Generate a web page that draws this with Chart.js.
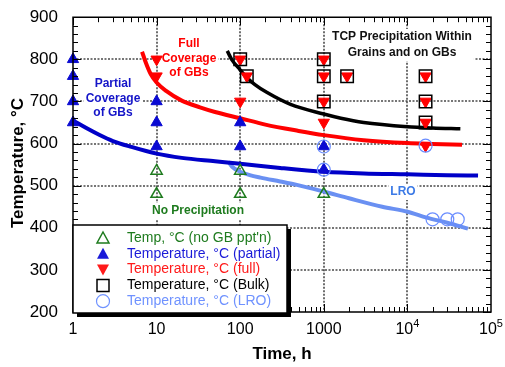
<!DOCTYPE html>
<html>
<head>
<meta charset="utf-8">
<script src="https://cdn.jsdelivr.net/npm/chart.js@4.4.0/dist/chart.umd.min.js"></script>
<style>
  html, body { margin: 0; padding: 0; background: #fff; }
</style>
</head>
<body>
<canvas id="grafico" width="505" height="367"></canvas>
<script>
// ticks
const xTicks = [1, 10, 100, 1000, 10000, 100000];
const xTickLabels = ['1', '10', '100', '1000', '10^4', '10^5'];
const yTicks = [200, 300, 400, 500, 600, 700, 800, 900];

// markers (time h, temperature C)
const noGbTime = [10, 10, 100, 100, 1000];
const noGbTemp = [535, 480, 535, 480, 480];
const partialTime = [1, 1, 1, 1, 10, 10, 10, 100, 100, 1000, 1000];
const partialTemp = [800, 760, 700, 650, 700, 650, 593, 650, 593, 593, 538];
const fullTime = [10, 10, 100, 120, 100, 1000, 1000, 1000, 1000, 1900, 16500, 16500, 16500, 16500];
const fullTemp = [800, 760, 800, 760, 700, 800, 760, 700, 650, 760, 760, 700, 650, 595];
const bulkTime = [100, 120, 1000, 1000, 1000, 1900, 16500, 16500, 16500];
const bulkTemp = [800, 760, 800, 760, 700, 760, 760, 700, 650];
const lroTime = [1000, 1000, 16500, 20000, 30000, 40000];
const lroTemp = [593, 538, 595, 420, 420, 420];

// boundary curves
const partialCurveTime = [1, 1.5, 2, 3, 5, 10, 20, 50, 100, 300, 1000, 3000, 10000, 30000, 70000];
const partialCurveTemp = [655, 635, 622, 606, 592, 576, 566, 558, 552, 542, 533, 529, 527, 525, 524];
const fullCurveTime = [6.7, 7.5, 8.5, 10, 13, 20, 33, 50, 100, 200, 500, 1000, 3000, 10000, 20000, 45000];
const fullCurveTemp = [818, 790, 765, 745, 725, 702, 686, 675, 660, 645, 630, 620, 608, 601, 599, 597];
const bulkCurveTime = [70, 80, 95, 120, 150, 210, 400, 1000, 1600, 3000, 10000, 20000, 43000];
const bulkCurveTemp = [820, 798, 780, 757, 740, 721, 693, 670, 660, 650, 640, 637, 635];
const lroCurveTime = [72, 80, 100, 130, 175, 300, 450, 1000, 2000, 5000, 10000, 17000, 30000, 53000];
const lroCurveTemp = [557, 545, 533, 525, 519, 510, 503, 486, 470, 450, 438, 424, 412, 398];

const legendLabels = [
    'Temp, °C (no GB ppt\'n)',
    'Temperature, °C (partial)',
    'Temperature, °C (full)',
    'Temperature, °C (Bulk)',
    'Temperature, °C (LRO)'
];

const FONT = '"Liberation Sans", Arial, sans-serif';
const verde = '#1e7b1e';
const azul = '#0a0ad2';
const vermelho = '#ff0000';
const azulClaro = '#6a90f2';
const corLegenda = [verde, '#1a1ad8', '#ff1a1a', '#000000', '#6f92ff'];

const pts = (xs, ys) => xs.map((x, i) => ({ x: x, y: ys[i] }));

function rotulo(ctx, linhas, cx, cy, dy, cor) {
    ctx.save();
    ctx.font = 'bold 12px ' + FONT;
    let w = 0;
    linhas.forEach(l => { w = Math.max(w, ctx.measureText(l).width); });
    ctx.fillStyle = '#fff';
    ctx.fillRect(cx - w / 2 - 2, cy - 8, w + 4, dy * (linhas.length - 1) + 16);
    ctx.fillStyle = cor;
    ctx.textAlign = 'center';
    ctx.textBaseline = 'middle';
    linhas.forEach((l, i) => ctx.fillText(l, cx, cy + i * dy));
    ctx.restore();
}

function marcador(ctx, tipo, x, y, i) {
    ctx.save();
    ctx.setLineDash([]);
    ctx.beginPath();
    if (tipo === 'up' || tipo === 'upOpen') {
        ctx.moveTo(x, y - 6); ctx.lineTo(x + 6, y + 5); ctx.lineTo(x - 6, y + 5); ctx.closePath();
    } else if (tipo === 'down') {
        ctx.moveTo(x, y + 6); ctx.lineTo(x + 6, y - 5); ctx.lineTo(x - 6, y - 5); ctx.closePath();
    } else if (tipo === 'rect') {
        ctx.rect(x - 6, y - 6, 12, 12);
    } else {
        ctx.arc(x, y, 6.5, 0, Math.PI * 2);
    }
    if (tipo === 'up' || tipo === 'down') {
        ctx.fillStyle = corLegenda[i];
        ctx.fill();
    } else {
        ctx.strokeStyle = corLegenda[i];
        ctx.lineWidth = tipo === 'circle' ? 1.2 : 1.5;
        ctx.stroke();
    }
    ctx.restore();
}

const decoracao = {
    id: 'decoracao',
    beforeDatasetsDraw(chart) {
        const ctx = chart.ctx;
        const a = chart.chartArea;
        const xs = chart.scales.x, ys = chart.scales.y;
        // dotted grid
        ctx.save();
        ctx.strokeStyle = '#4a4a4a';
        ctx.lineWidth = 1.6;
        ctx.setLineDash([2, 1.5]);
        ctx.beginPath();
        xTicks.slice(1, -1).forEach(v => {
            const px = Math.round(xs.getPixelForValue(v));
            ctx.moveTo(px, a.top); ctx.lineTo(px, a.bottom);
        });
        yTicks.slice(1, -1).forEach(v => {
            const py = Math.round(ys.getPixelForValue(v));
            ctx.moveTo(a.left, py); ctx.lineTo(a.right, py);
        });
        ctx.stroke();
        ctx.restore();

        rotulo(ctx, ['Partial', 'Coverage', 'of GBs'], 113, 84, 14.5, '#1414c8');
        rotulo(ctx, ['Full', 'Coverage', 'of GBs'], 189, 44, 14.5, vermelho);
        rotulo(ctx, ['TCP Precipitation Within', 'Grains and on GBs'], 402, 37, 16, '#111');
        rotulo(ctx, ['No Precipitation'], 198, 211, 14, verde);
        rotulo(ctx, ['LRO'], 403, 192, 14, '#3c7ae6');
    },
    afterDraw(chart) {
        const ctx = chart.ctx;
        const a = chart.chartArea;
        const xs = chart.scales.x, ys = chart.scales.y;
        ctx.save();
        ctx.setLineDash([]);
        ctx.globalAlpha = 1;
        ctx.strokeStyle = '#000000';
        ctx.lineWidth = 1;
        ctx.beginPath();
        // y ticks inside, left and right
        for (let v = 200; v <= 900; v += 20) {
            const py = Math.round(ys.getPixelForValue(v)) + 0.5;
            const len = v % 100 === 0 ? 8 : 5;
            ctx.moveTo(a.left, py); ctx.lineTo(a.left + len, py);
            ctx.moveTo(a.right, py); ctx.lineTo(a.right - len, py);
        }
        // log x ticks inside, top and bottom
        for (let d = 0; d < 5; d++) {
            for (let m = 1; m <= 9; m++) {
                const px = Math.round(xs.getPixelForValue(m * Math.pow(10, d))) + 0.5;
                const len = m === 1 ? 8 : 5;
                ctx.moveTo(px, a.bottom); ctx.lineTo(px, a.bottom - len);
                ctx.moveTo(px, a.top); ctx.lineTo(px, a.top + len);
            }
        }
        ctx.stroke();
        ctx.lineWidth = 1.5;
        ctx.beginPath();
        ctx.rect(a.left, a.top, a.right - a.left, a.bottom - a.top);
        ctx.stroke();

        // legenda
        const lx = a.left, ly = 225, lw = 214, lh = 88;
        ctx.fillStyle = '#000';
        ctx.fillRect(lx + 4, ly + 4, lw, lh);
        ctx.fillStyle = '#fff';
        ctx.fillRect(lx, ly, lw, lh);
        ctx.lineWidth = 1.5;
        ctx.strokeRect(lx, ly, lw, lh);
        const tipos = ['upOpen', 'up', 'down', 'rect', 'circle'];
        ctx.font = '14px ' + FONT;
        ctx.textBaseline = 'middle';
        ctx.textAlign = 'left';
        legendLabels.forEach((t, i) => {
            const ry = 238 + i * 15.8;
            marcador(ctx, tipos[i], lx + 30, ry, i);
            ctx.fillStyle = corLegenda[i];
            ctx.fillText(t, lx + 54, ry);
        });

        // x tick labels with superscripts
        ctx.fillStyle = '#000';
        xTicks.forEach((v, i) => {
            const px = xs.getPixelForValue(v);
            const parts = xTickLabels[i].split('^');
            ctx.font = '16px ' + FONT;
            const w1 = ctx.measureText(parts[0]).width;
            let w2 = 0;
            if (parts[1]) { ctx.font = '11px ' + FONT; w2 = ctx.measureText(parts[1]).width; }
            const x0 = px - (w1 + w2) / 2;
            ctx.font = '16px ' + FONT;
            ctx.fillText(parts[0], x0, a.bottom + 18);
            if (parts[1]) { ctx.font = '11px ' + FONT; ctx.fillText(parts[1], x0 + w1, a.bottom + 12); }
        });

        // axis titles
        ctx.font = 'bold 17px ' + FONT;
        ctx.textAlign = 'center';
        ctx.fillText('Time, h', (a.left + a.right) / 2, 354);
        ctx.translate(18, 163);
        ctx.rotate(-Math.PI / 2);
        ctx.fillText('Temperature, °C', 0, 0);
        ctx.restore();
    }
};

const curva = (label, xs, ys, cor, w) => ({
    label: label, data: pts(xs, ys), showLine: true, pointRadius: 0, clip: false,
    borderColor: cor, borderWidth: w, cubicInterpolationMode: 'monotone', order: 10
});

new Chart(document.getElementById('grafico').getContext('2d'), {
    type: 'scatter',
    data: {
        datasets: [
            { label: legendLabels[0], data: pts(noGbTime, noGbTemp), pointStyle: 'triangle', pointRadius: 6.5, clip: false,
              backgroundColor: 'rgba(0,0,0,0)', borderColor: verde, borderWidth: 1.5, order: 5 },
            { label: legendLabels[1], data: pts(partialTime, partialTemp), pointStyle: 'triangle', pointRadius: 6.5, clip: false,
              backgroundColor: azul, borderColor: azul, borderWidth: 1, order: 4 },
            { label: legendLabels[2], data: pts(fullTime, fullTemp), pointStyle: 'triangle', pointRotation: 180, pointRadius: 6.5, clip: false,
              backgroundColor: vermelho, borderColor: vermelho, borderWidth: 1, order: 3 },
            { label: legendLabels[3], data: pts(bulkTime, bulkTemp), pointStyle: 'rect', pointRadius: 8.8, clip: false,
              backgroundColor: 'rgba(0,0,0,0)', borderColor: '#000', borderWidth: 1.5, order: 2 },
            { label: legendLabels[4], data: pts(lroTime, lroTemp), pointStyle: 'circle', pointRadius: 6.5, clip: false,
              backgroundColor: 'rgba(0,0,0,0)', borderColor: '#6a8dff', borderWidth: 1.2, order: 1 },
            curva('partial', partialCurveTime, partialCurveTemp, '#0000c8', 4),
            curva('full', fullCurveTime, fullCurveTemp, vermelho, 4),
            curva('bulk', bulkCurveTime, bulkCurveTemp, '#000', 3.5),
            curva('lro', lroCurveTime, lroCurveTemp, azulClaro, 4)
        ]
    },
    options: {
        responsive: false,
        animation: false,
        devicePixelRatio: 1,
        layout: { padding: { top: 14, right: 14, left: 0, bottom: 0 } },
        plugins: { legend: { display: false }, tooltip: { enabled: false } },
        scales: {
            x: {
                type: 'logarithmic', min: 1, max: 100000,
                afterBuildTicks: s => { s.ticks = xTicks.map(v => ({ value: v })); },
                afterFit: s => { s.height = 55; },
                ticks: { display: false },
                grid: { display: false },
                border: { display: false }
            },
            y: {
                min: 200, max: 900,
                afterBuildTicks: s => { s.ticks = yTicks.map(v => ({ value: v })); },
                afterFit: s => { s.width = 73; },
                ticks: { color: '#000', padding: 7, font: { size: 17, family: FONT } },
                grid: { display: false },
                border: { display: false }
            }
        }
    },
    plugins: [decoracao]
});
</script>
</body>
</html>
